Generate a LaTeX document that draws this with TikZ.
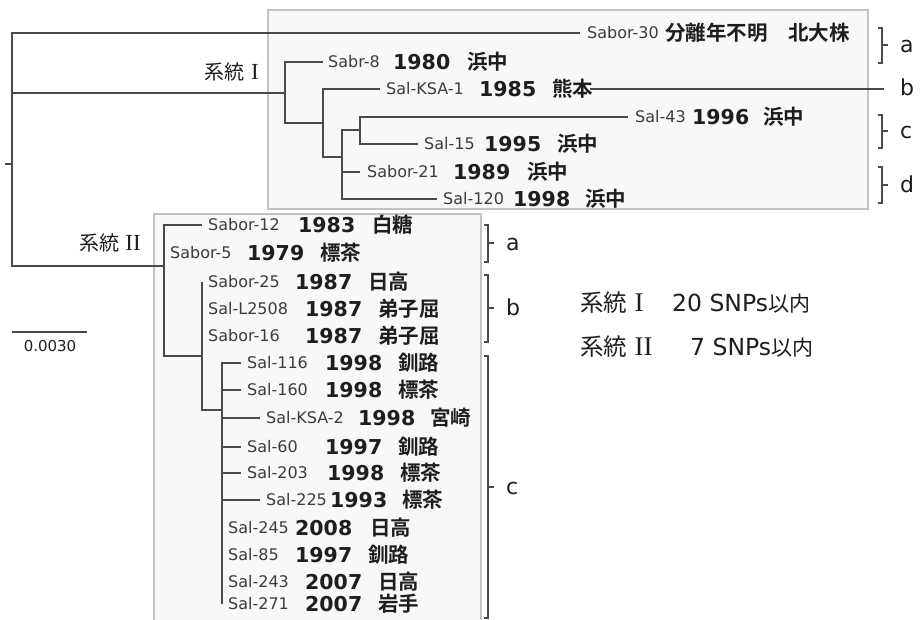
\documentclass[tikz,border=0pt]{standalone}
\usepackage{fontspec}
\setmainfont{DejaVu Sans}
\newfontfamily\cjk[BoldFont={Noto Sans CJK JP Bold}]{Noto Sans CJK JP}
\newfontfamily\serI{Liberation Serif}
\definecolor{treegray}{HTML}{4A4A4A}
\definecolor{lblgray}{HTML}{3C3C3C}
\definecolor{txtdark}{HTML}{1E1E1E}
\definecolor{boxfill}{HTML}{F8F8F8}
\definecolor{boxline}{HTML}{C2C2C2}
\newcommand\mkleaf[8]{%
  \node[lbl] (#1) at (#3,#2) {#4};
  \node[yr] (#1y) at (#5,#2) {#6};
  \node[pl] (#1p) at (#7,#2) {#8};}
\newcommand\mkbracket[6]{%
  \draw[brk] (#2-4,#3) -- (#2,#3) -- (#2,#4) -- (#2-4,#4);
  \draw[brk] (#2,#5) -- (#2+6,#5);
  \node[grp] (#1) at (#2+18,#5) {#6};}
\tikzset{
  tree/.style={draw=treegray, line width=1.4pt},
  brk/.style={draw=treegray, line width=1.3pt},
  panel/.style={fill=boxfill, draw=boxline, line width=1.1pt},
  lbl/.style={font=\fontsize{16}{16}\selectfont, text=lblgray, inner sep=0pt, anchor=west, text height=11.5pt, text depth=0pt},
  yr/.style={font=\fontsize{20.5}{21}\selectfont\bfseries, text=txtdark, inner sep=0pt, anchor=west, text height=15pt, text depth=0pt},
  pl/.style={font=\fontsize{20.5}{21}\selectfont\cjk\bfseries, text=txtdark, inner sep=0pt, anchor=west, text height=15pt, text depth=0pt},
  grp/.style={font=\fontsize{22}{22}\selectfont, text=txtdark, inner sep=0pt, anchor=west, text height=15pt, text depth=0pt},
  clade/.style={font=\fontsize{20}{20}\selectfont, text=txtdark, inner sep=0pt, text height=15pt, text depth=0pt},
  leg/.style={font=\fontsize{23.5}{24}\selectfont, text=txtdark, inner sep=0pt, anchor=west, text height=17pt, text depth=0pt},
}
\begin{document}
\begin{tikzpicture}[x=1pt,y=-1pt]
\useasboundingbox[fill=white] (0,0) rectangle (920,620);
% panels
\path[panel] (268,10) rectangle (868,209);
\path[panel] (154,214) rectangle (481,626);

% leaves, lineage I
\node[lbl] (s30) at (587,33) {Sabor-30};
\node[pl] (s30p) at (665,33) {分離年不明　北大株};
\mkleaf{s8}{62}{328}{Sabr-8}{393}{1980}{467}{浜中}
\mkleaf{ksa1}{89}{386}{Sal-KSA-1}{479}{1985}{552}{熊本}
\mkleaf{s43}{117}{635}{Sal-43}{692}{1996}{763}{浜中}
\mkleaf{s15}{144}{424}{Sal-15}{484}{1995}{557}{浜中}
\mkleaf{s21}{172}{367}{Sabor-21}{453}{1989}{527}{浜中}
\mkleaf{s120}{199}{443}{Sal-120}{513}{1998}{585}{浜中}

% leaves, lineage II
\mkleaf{s12}{225}{208}{Sabor-12}{298}{1983}{372}{白糖}
\mkleaf{s5}{253}{170}{Sabor-5}{247}{1979}{320}{標茶}
\mkleaf{s25}{282}{208}{Sabor-25}{295}{1987}{368}{日高}
\mkleaf{l2508}{309}{208}{Sal-L2508}{305}{1987}{378}{弟子屈}
\mkleaf{s16}{336}{208}{Sabor-16}{305}{1987}{378}{弟子屈}
\mkleaf{s116}{363}{247}{Sal-116}{325}{1998}{398}{釧路}
\mkleaf{s160}{390}{247}{Sal-160}{325}{1998}{398}{標茶}
\mkleaf{ksa2}{418}{266}{Sal-KSA-2}{358}{1998}{430}{宮崎}
\mkleaf{s60}{447}{247}{Sal-60}{325}{1997}{398}{釧路}
\mkleaf{s203}{473}{247}{Sal-203}{327}{1998}{400}{標茶}
\mkleaf{s225}{500}{266}{Sal-225}{330}{1993}{402}{標茶}
\mkleaf{s245}{528}{228}{Sal-245}{295}{2008}{370}{日高}
\mkleaf{s85}{555}{228}{Sal-85}{295}{1997}{368}{釧路}
\mkleaf{s243}{582}{228}{Sal-243}{305}{2007}{378}{日高}
\mkleaf{s271}{604}{228}{Sal-271}{305}{2007}{378}{岩手}

% internal nodes
\coordinate (stub) at (5,164);
\coordinate (R) at (12,164);
\coordinate (A) at (285,93);
\coordinate (B) at (323,123);
\coordinate (C) at (342,157);
\coordinate (D) at (360,130);
\coordinate (E) at (164,266);
\coordinate (F) at (202,356);
\coordinate (G) at (222,410);

% branches
\draw[tree] (stub) -- (R);
\draw[tree] (R) |- ([xshift=-7pt]s30.west);
\draw[tree] (R) |- (A);
\draw[tree] (R) |- (E);
\draw[tree] (A) |- ([xshift=-5pt]s8.west);
\draw[tree] (A) |- (B);
\draw[tree] (B) |- ([xshift=-6pt]ksa1.west);
\draw[tree] (B) |- (C);
\draw[tree] (C) |- (D);
\draw[tree] (C) |- ([xshift=-7pt]s21.west);
\draw[tree] (C) |- ([xshift=-6pt]s120.west);
\draw[tree] (D) |- ([xshift=-7pt]s43.west);
\draw[tree] (D) |- ([xshift=-6pt]s15.west);

\draw[tree] (E) |- ([xshift=-6pt]s12.west);
\draw[tree] (E) |- ([xshift=-6pt]s5.west);
\draw[tree] (E) |- (F);
\draw[tree] (F) |- ([xshift=-6pt]s25.west);
\draw[tree] (F) |- ([xshift=-6pt]l2508.west);
\draw[tree] (F) |- ([xshift=-6pt]s16.west);
\draw[tree] (F) |- (G);
\foreach \n in {s116,s160,ksa2,s60,s203,s225,s245,s85,s243,s271}
  \draw[tree] (G) |- ([xshift=-6pt]\n.west);

% clade labels
\node[clade, anchor=east] (cl1) at (259,72) {{\cjk 系統} {\serI\fontsize{23}{23}\selectfont I}};
\node[clade, anchor=east] (cl2) at (141,243) {{\cjk 系統} {\serI\fontsize{23}{23}\selectfont II}};

% group brackets, lineage I
\mkbracket{ga1}{882}{28}{63}{45}{a}
\coordinate (bend) at (884,89);
\draw[brk] ([xshift=-3pt]ksa1p.east) -- (bend);
\node[grp] (gb1) at (900,88) {b};
\mkbracket{gc1}{882}{115}{148}{131}{c}
\mkbracket{gd1}{882}{167}{203}{185}{d}

% group brackets, lineage II
\mkbracket{ga2}{488}{225}{262}{243}{a}
\mkbracket{gb2}{488}{275}{342}{308}{b}
\mkbracket{gc2}{488}{356}{618}{487}{c}

% legend
\node[leg] (lg1a) at (580,303) {{\cjk 系統} {\serI\fontsize{27}{27}\selectfont I}};
\node[leg] (lg1b) at (672,303) {20 SNPs{\cjk\fontsize{21}{21}\selectfont 以内}};
\node[leg] (lg2a) at (580,347) {{\cjk 系統} {\serI\fontsize{27}{27}\selectfont II}};
\node[leg] (lg2b) at (690,347) {7 SNPs{\cjk\fontsize{21}{21}\selectfont 以内}};

% scale bar
\coordinate (sbL) at (12,332);
\coordinate (sbR) at (87,332);
\draw[tree] (sbL) -- (sbR);
\node[font=\fontsize{15}{15}\selectfont, text=txtdark, inner sep=0pt] (sbt) at (50,346) {0.0030};
\end{tikzpicture}
\end{document}
